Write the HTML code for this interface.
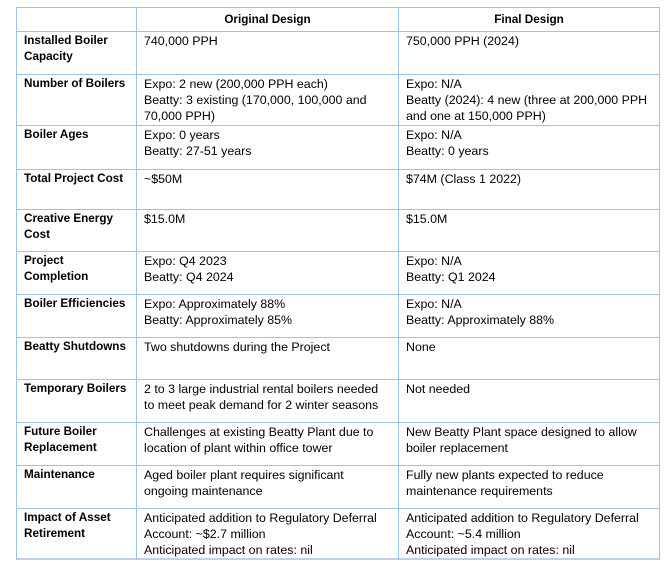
<!DOCTYPE html>
<html>
<head>
<meta charset="utf-8">
<style>
html,body{margin:0;padding:0;background:#fff;}
body{width:672px;height:571px;position:relative;overflow:hidden;font-family:"Liberation Sans",Arial,sans-serif;color:#000;}
.h{position:absolute;left:16px;width:644px;height:1px;background:#9dc3e6;}
.v{position:absolute;top:7px;width:1px;height:553px;background:#9dc3e6;}
.c{position:absolute;white-space:nowrap;font-size:12.4px;line-height:16.2px;}
.b{font-weight:bold;font-size:11.7px;}
.hd{position:absolute;top:12px;font-weight:bold;font-size:11.7px;line-height:16px;text-align:center;white-space:nowrap;}
</style>
</head>
<body>
<!-- horizontal lines -->
<div class="h" style="top:7px"></div>
<div class="h" style="top:31px"></div>
<div class="h" style="top:74px"></div>
<div class="h" style="top:125px"></div>
<div class="h" style="top:169px"></div>
<div class="h" style="top:209px"></div>
<div class="h" style="top:251px"></div>
<div class="h" style="top:294px"></div>
<div class="h" style="top:337px"></div>
<div class="h" style="top:379px"></div>
<div class="h" style="top:422px"></div>
<div class="h" style="top:465px"></div>
<div class="h" style="top:508px"></div>
<div class="h" style="top:558px;height:2px;background:#b7d3ef"></div>
<!-- vertical lines -->
<div class="v" style="left:16px"></div>
<div class="v" style="left:136px"></div>
<div class="v" style="left:398px"></div>
<div class="v" style="left:659px"></div>

<!-- header -->
<div class="hd" style="left:137px;width:261px">Original Design</div>
<div class="hd" style="left:399px;width:260px">Final Design</div>

<!-- row 1 -->
<div class="c b" style="left:24px;top:33px">Installed Boiler<br>Capacity</div>
<div class="c" style="left:144px;top:33px">740,000 PPH</div>
<div class="c" style="left:406px;top:33px">750,000 PPH (2024)</div>

<!-- row 2 -->
<div class="c b" style="left:24px;top:76px">Number of Boilers</div>
<div class="c" style="left:144px;top:76px">Expo: 2 new (200,000 PPH each)<br>Beatty: 3 existing (170,000, 100,000 and<br>70,000 PPH)</div>
<div class="c" style="left:406px;top:76px">Expo: N/A<br>Beatty (2024): 4 new (three at 200,000 PPH<br>and one at 150,000 PPH)</div>

<!-- row 3 -->
<div class="c b" style="left:24px;top:127px">Boiler Ages</div>
<div class="c" style="left:144px;top:127px">Expo: 0 years<br>Beatty: 27-51 years</div>
<div class="c" style="left:406px;top:127px">Expo: N/A<br>Beatty: 0 years</div>

<!-- row 4 -->
<div class="c b" style="left:24px;top:171px">Total Project Cost</div>
<div class="c" style="left:144px;top:171px">~$50M</div>
<div class="c" style="left:406px;top:171px">$74M (Class 1 2022)</div>

<!-- row 5 -->
<div class="c b" style="left:24px;top:211px">Creative Energy<br>Cost</div>
<div class="c" style="left:144px;top:211px">$15.0M</div>
<div class="c" style="left:406px;top:211px">$15.0M</div>

<!-- row 6 -->
<div class="c b" style="left:24px;top:253px">Project<br>Completion</div>
<div class="c" style="left:144px;top:253px">Expo: Q4 2023<br>Beatty: Q4 2024</div>
<div class="c" style="left:406px;top:253px">Expo: N/A<br>Beatty: Q1 2024</div>

<!-- row 7 -->
<div class="c b" style="left:24px;top:296px">Boiler Efficiencies</div>
<div class="c" style="left:144px;top:296px">Expo: Approximately 88%<br>Beatty: Approximately 85%</div>
<div class="c" style="left:406px;top:296px">Expo: N/A<br>Beatty: Approximately 88%</div>

<!-- row 8 -->
<div class="c b" style="left:24px;top:339px">Beatty Shutdowns</div>
<div class="c" style="left:144px;top:339px">Two shutdowns during the Project</div>
<div class="c" style="left:406px;top:339px">None</div>

<!-- row 9 -->
<div class="c b" style="left:24px;top:381px">Temporary Boilers</div>
<div class="c" style="left:144px;top:381px">2 to 3 large industrial rental boilers needed<br>to meet peak demand for 2 winter seasons</div>
<div class="c" style="left:406px;top:381px">Not needed</div>

<!-- row 10 -->
<div class="c b" style="left:24px;top:424px">Future Boiler<br>Replacement</div>
<div class="c" style="left:144px;top:424px">Challenges at existing Beatty Plant due to<br>location of plant within office tower</div>
<div class="c" style="left:406px;top:424px">New Beatty Plant space designed to allow<br>boiler replacement</div>

<!-- row 11 -->
<div class="c b" style="left:24px;top:467px">Maintenance</div>
<div class="c" style="left:144px;top:467px">Aged boiler plant requires significant<br>ongoing maintenance</div>
<div class="c" style="left:406px;top:467px">Fully new plants expected to reduce<br>maintenance requirements</div>

<!-- row 12 -->
<div class="c b" style="left:24px;top:510px">Impact of Asset<br>Retirement</div>
<div class="c" style="left:144px;top:510px">Anticipated addition to Regulatory Deferral<br>Account: ~$2.7 million<br>Anticipated impact on rates: nil</div>
<div class="c" style="left:406px;top:510px">Anticipated addition to Regulatory Deferral<br>Account: ~5.4 million<br>Anticipated impact on rates: nil</div>
</body>
</html>
